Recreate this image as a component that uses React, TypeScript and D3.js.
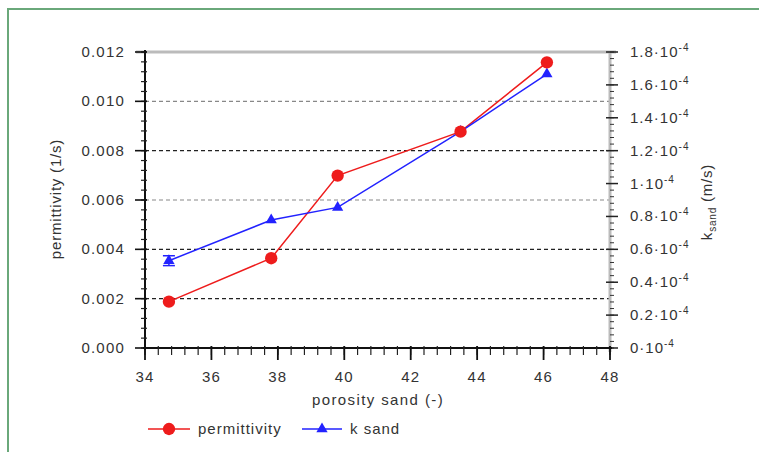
import React from "react"
import * as d3 from "d3"

const porosity = [34.72, 37.8, 39.8, 43.5, 46.1]
const permittivity = [0.00188, 0.00364, 0.00699, 0.00877, 0.01158]
const kSand = [0.531e-4, 0.778e-4, 0.855e-4, 1.316e-4, 1.666e-4]
const kSandErr = [0.03e-4, 0, 0, 0, 0]
const xTicks = [34, 36, 38, 40, 42, 44, 46, 48]
const leftTicks = [0, 0.002, 0.004, 0.006, 0.008, 0.01, 0.012]
const leftLabels = ["0.000", "0.002", "0.004", "0.006", "0.008", "0.010", "0.012"]
const rightTicks = [0, 0.2e-4, 0.4e-4, 0.6e-4, 0.8e-4, 1e-4, 1.2e-4, 1.4e-4, 1.6e-4, 1.8e-4]
const rightLabels = ["0", "0.2", "0.4", "0.6", "0.8", "1", "1.2", "1.4", "1.6", "1.8"]
const gridValues = [0.002, 0.004, 0.006, 0.008, 0.01]
const gridShade = ["#222", "#222", "#888", "#222", "#888"]

const font = "'Liberation Sans', Arial, sans-serif"
const txt = "#333"
const red = "#ee1c1c"
const blue = "#2222ff"

export default function App() {
  const x = d3.scaleLinear().domain([34, 48]).range([145, 610])
  const yL = d3.scaleLinear().domain([0, 0.012]).range([348, 52])
  const yR = d3.scaleLinear().domain([0, 1.8e-4]).range([348, 52])

  const redLine = d3.line<number>().x((d, i) => x(porosity[i])).y(d => yL(d))(permittivity)
  const blueLine = d3.line<number>().x((d, i) => x(porosity[i])).y(d => yR(d))(kSand)
  const tri = d3.symbol().type(d3.symbolTriangle).size(55)()
  const dot = d3.symbol().type(d3.symbolCircle).size(120)()

  const xMinor = d3.range(34, 48.01, 0.4)
  const lMinor = d3.range(0, 0.01201, 0.0004)
  const rMinor = d3.range(0, 1.8001e-4, 0.04e-4)

  return (
    <svg width={759} height={452} style={{ position: "absolute", left: 0, top: 0, background: "#fff" }} fontFamily={font}>
      <rect x={8} y={9} width={800} height={500} fill="none" stroke="#6aa87a" strokeWidth={2} />

      {gridValues.map((g, i) => (
        <line key={i} x1={145} x2={610} y1={yL(g)} y2={yL(g)}
          stroke={gridShade[i]} strokeWidth={1.2} strokeDasharray="4,3" />
      ))}

      {/* top frame */}
      <line x1={136} x2={616} y1={yL(0.012)} y2={yL(0.012)} stroke="#bbb" strokeWidth={3} />
      {/* right axis */}
      <line x1={610} x2={610} y1={52} y2={352} stroke="#bbb" strokeWidth={3} />
      {rMinor.map((t, i) => (
        <line key={i} x1={610} x2={614} y1={yR(t)} y2={yR(t)} stroke="#333" strokeWidth={1} />
      ))}
      {rightTicks.map((t, i) => (
        <line key={i} x1={606} x2={618} y1={yR(t)} y2={yR(t)} stroke="#222" strokeWidth={1.5} />
      ))}
      {rightTicks.map((t, i) => (
        <text key={i} x={630} y={yR(t) + 5} fontSize={15} fill={txt} letterSpacing={1}>
          {rightLabels[i]}·10<tspan fontSize={10} dy={-6}>-4</tspan>
        </text>
      ))}

      {/* left axis */}
      <line x1={145} x2={145} y1={50} y2={350} stroke="#111" strokeWidth={2} />
      {lMinor.map((t, i) => (
        <line key={i} x1={141} x2={147} y1={yL(t)} y2={yL(t)} stroke="#222" strokeWidth={1.2} />
      ))}
      {leftTicks.map((t, i) => (
        <line key={i} x1={135} x2={147} y1={yL(t)} y2={yL(t)} stroke="#111" strokeWidth={1.6} />
      ))}
      {leftTicks.map((t, i) => (
        <text key={i} x={125} y={yL(t) + 5} fontSize={15} fill={txt} textAnchor="end" letterSpacing={1.2}>
          {leftLabels[i]}
        </text>
      ))}

      {/* bottom axis */}
      <line x1={143} x2={612} y1={348} y2={348} stroke="#111" strokeWidth={2} />
      {xMinor.map((t, i) => (
        <line key={i} x1={x(t)} x2={x(t)} y1={346} y2={355} stroke="#222" strokeWidth={1.2} />
      ))}
      {xTicks.map((t, i) => (
        <line key={i} x1={x(t)} x2={x(t)} y1={346} y2={360} stroke="#111" strokeWidth={1.8} />
      ))}
      {xTicks.map((t, i) => (
        <text key={i} x={x(t)} y={382} fontSize={15} fill={txt} textAnchor="middle" letterSpacing={1.2}>
          {t}
        </text>
      ))}

      <text x={378} y={405} fontSize={15} fill={txt} textAnchor="middle" letterSpacing={1.4}>porosity sand (-)</text>
      <text transform="translate(61,199) rotate(-90)" fontSize={15} fill={txt} textAnchor="middle" letterSpacing={0.8}>
        permittivity (1/s)
      </text>
      <text transform="translate(712,202) rotate(-90)" fontSize={15} fill={txt} textAnchor="middle" letterSpacing={0.8}>
        k<tspan fontSize={10} dy={4}>sand</tspan><tspan dy={-4}> (m/s)</tspan>
      </text>

      {/* series */}
      <path d={redLine ?? ""} fill="none" stroke={red} strokeWidth={1.5} />
      <path d={blueLine ?? ""} fill="none" stroke={blue} strokeWidth={1.5} />
      {kSand.map((k, i) => kSandErr[i] > 0 ? (
        <g key={i} stroke={blue} strokeWidth={1.5}>
          <line x1={x(porosity[i])} x2={x(porosity[i])} y1={yR(k - kSandErr[i])} y2={yR(k + kSandErr[i])} />
          <line x1={x(porosity[i]) - 6} x2={x(porosity[i]) + 6} y1={yR(k - kSandErr[i])} y2={yR(k - kSandErr[i])} />
          <line x1={x(porosity[i]) - 6} x2={x(porosity[i]) + 6} y1={yR(k + kSandErr[i])} y2={yR(k + kSandErr[i])} />
        </g>
      ) : null)}
      {kSand.map((k, i) => (
        <path key={i} d={tri ?? ""} transform={`translate(${x(porosity[i])},${yR(k)})`} fill={blue} />
      ))}
      {permittivity.map((p, i) => (
        <path key={i} d={dot ?? ""} transform={`translate(${x(porosity[i])},${yL(p)})`} fill={red} />
      ))}

      {/* legend */}
      <line x1={148} x2={190} y1={429} y2={429} stroke={red} strokeWidth={1.5} />
      <path d={dot ?? ""} transform="translate(169,429)" fill={red} />
      <text x={198} y={434} fontSize={15} fill={txt} letterSpacing={1}>permittivity</text>
      <line x1={302} x2={342} y1={429} y2={429} stroke={blue} strokeWidth={1.5} />
      <path d={tri ?? ""} transform="translate(322,429)" fill={blue} />
      <text x={350} y={434} fontSize={15} fill={txt} letterSpacing={1}>k sand</text>
    </svg>
  )
}
